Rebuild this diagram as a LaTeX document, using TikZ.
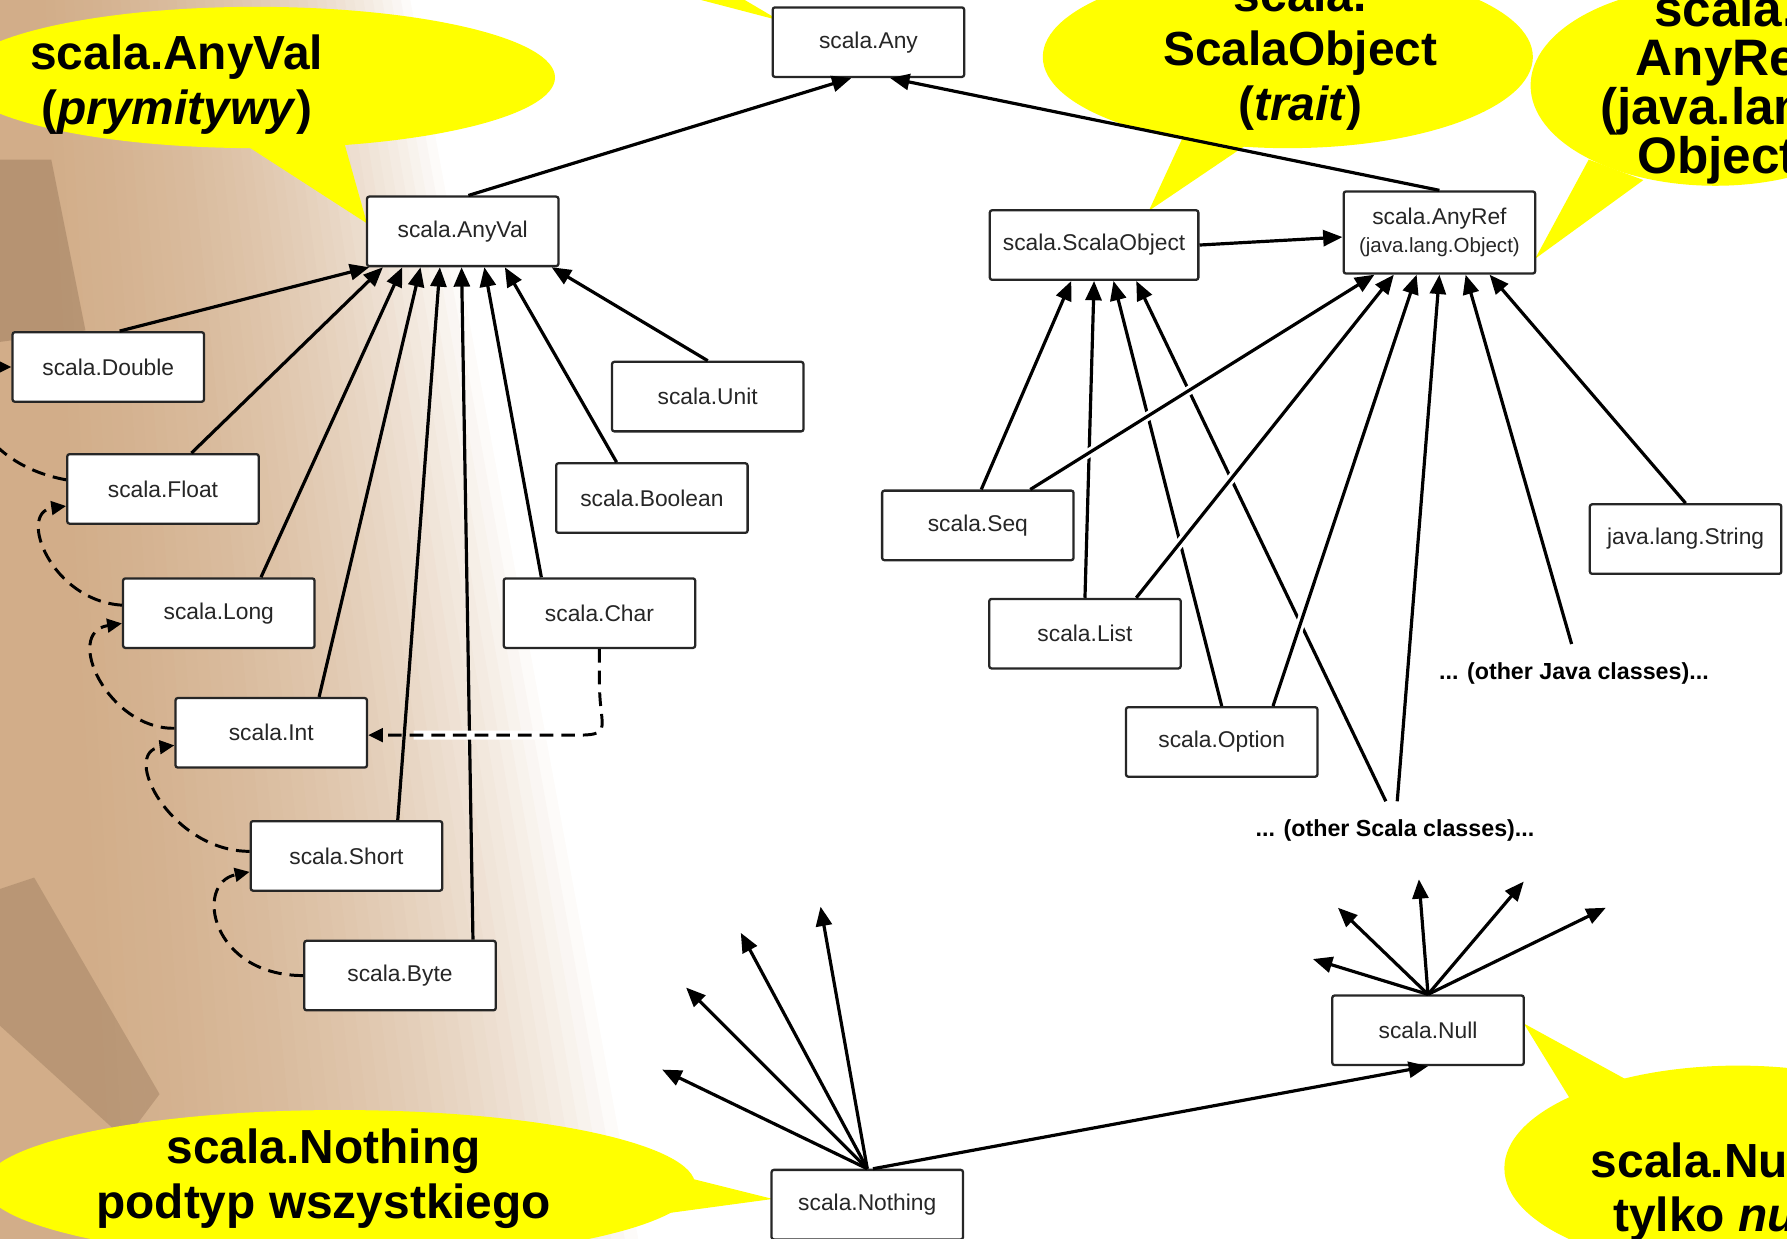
\documentclass[tikz,border=0pt]{standalone}
\usepackage{fontspec}
\setmainfont{Liberation Sans}
\usetikzlibrary{arrows.meta,calc,positioning}

\definecolor{callyellow}{RGB}{255,255,0}
\definecolor{bgtan}{RGB}{200,156,112}
\definecolor{bgbrown}{RGB}{112,82,58}

\tikzset{
  classbox/.style={draw=black!85, line width=1pt, fill=white, rounded corners=1pt,
    minimum width=84pt, minimum height=30.5pt, inner sep=1pt,
    font=\fontsize{10}{12.5}\selectfont, text=black!85},
  calltext/.style={font={\fontsize{21}{24}\selectfont\bfseries}, align=center, inner sep=0pt},
  othertext/.style={font={\fontsize{10.2}{12}\selectfont\bfseries}, inner sep=1pt},
  arr/.style={-{Triangle[length=8.5pt,width=7pt]}, line width=1.4pt},
  implarr/.style={-{Triangle[length=6.5pt,width=6pt]}, line width=1.3pt, dash pattern=on 6pt off 3.5pt},
  jump/.style={preaction={draw=white, line width=4pt, solid, arrows=-, shorten >=20pt, shorten <=4pt}},
}

\begin{document}
\begin{tikzpicture}[x=0.5pt,y=0.5pt,yscale=-1]
\useasboundingbox (0,0) rectangle (1568,1087);
\clip (0,0) rectangle (1568,1087);

% background photo, faded
\foreach \i in {0,...,39}
  \fill[bgtan, opacity=0.045] (0,0) -- ({360-\i*8.2},0) -- ({560-\i*11.8},1087) -- (0,1087) -- cycle;
\fill[bgbrown, opacity=0.28] (0,140) -- (45,140) -- (75,290) -- (0,300) -- cycle;
\fill[bgbrown, opacity=0.25] (0,780) -- (30,770) -- (140,960) -- (110,1000) -- (0,900) -- cycle;

%Callout scala.Any (ellipse above the page)
\fill[callyellow] (596,-5) -- (645,-5) -- (684,18) -- cycle;

%Callout scala.AnyVal
\fill[callyellow] (225,68) ellipse [x radius=262, y radius=62];
\fill[callyellow] (212,125) -- (300,118) -- (322,196) -- cycle;
% Text Node
\node[calltext] (cavl) at (155,74) {scala.AnyVal\\(\textit{prymitywy})};

%Callout scala.ScalaObject
\fill[callyellow] (1130,50) ellipse [x radius=215, y radius=80];
\fill[callyellow] (1045,105) -- (1116,112) -- (1008,185) -- cycle;
% Text Node
\node[calltext] (cso) at (1141,47) {scala.\\ScalaObject\\(\textit{trait})};

%Callout scala.AnyRef
\fill[callyellow] (1505,75) ellipse [x radius=162, y radius=88];
\fill[callyellow] (1394,140) -- (1442,158) -- (1347,227) -- cycle;
% Text Node
\node[calltext, font={\fontsize{22.5}{21.5}\selectfont\bfseries}] (car) at (1514,76) {scala.\\AnyRef\\(java.lang.\\Object)};

%Callout scala.Nothing
\fill[callyellow] (298,1040) ellipse [x radius=312, y radius=66];
\fill[callyellow] (590,1030) -- (560,1068) -- (678,1052) -- cycle;
% Text Node
\node[calltext] (cnth) at (284,1034) {scala.Nothing\\podtyp wszystkiego};

%Callout scala.Null
\fill[callyellow] (1525,1025) ellipse [x radius=205, y radius=90];
\fill[callyellow] (1380,968) -- (1432,950) -- (1337,898) -- cycle;
% Text Node
\node[calltext] (cnul) at (1494,1046) {scala.Null\\\hspace*{14pt}tylko \textit{null}};

%Class boxes
\node[classbox] (any) at (762,37) {scala.Any};
\node[classbox] (anyval) at (406,203) {scala.AnyVal};
\node[classbox, minimum width=91.5pt] (scalaobj) at (960,215) {scala.ScalaObject};
\node[classbox, minimum height=36pt, align=center] (anyref) at (1263,204) {scala.AnyRef\\{\fontsize{9}{11}\selectfont(java.lang.Object)}};
\node[classbox] (double) at (95,322) {scala.Double};
\node[classbox] (unit) at (621,348) {scala.Unit};
\node[classbox] (float) at (143,429) {scala.Float};
\node[classbox] (boolean) at (572,437) {scala.Boolean};
\node[classbox] (seq) at (858,461) {scala.Seq};
\node[classbox] (string) at (1479,473) {java.lang.String};
\node[classbox] (long) at (192,538) {scala.Long};
\node[classbox] (char) at (526,538) {scala.Char};
\node[classbox] (list) at (952,556) {scala.List};
\node[classbox] (int) at (238,643) {scala.Int};
\node[classbox] (option) at (1072,651) {scala.Option};
\node[classbox] (short) at (304,751) {scala.Short};
\node[classbox] (byte) at (351,856) {scala.Byte};
\node[classbox] (nullcls) at (1253,904) {scala.Null};
\node[classbox] (nothing) at (761,1057) {scala.Nothing};

% Text Node
\node[othertext] (othjava) at (1381,591) {... (other Java classes)...};
% Text Node
\node[othertext] (othscala) at (1224,729) {... (other Scala classes)...};

%Implicit conversions (dashed)
\draw[implarr] ($(float.west)+(0,-8)$) .. controls (-30,405) and (-45,322) .. (double.west);
\draw[implarr] ($(long.west)+(0,-7)$) .. controls (45,527) and (15,450) .. ($(float.west)+(0,15)$);
\draw[implarr] ($(int.west)+(0,-4)$) .. controls (95,640) and (55,555) .. ($(long.west)+(0,9)$);
\draw[implarr] ($(short.west)+(0,-4)$) .. controls (150,747) and (105,660) .. ($(int.west)+(0,11)$);
\draw[implarr] (byte.west) .. controls (185,856) and (170,775) .. ($(short.west)+(0,14)$);

%Subclasses of AnyVal
\draw[arr] ($(double.north)+(10,0)$) -- ($(anyval.south)+(-82,0)$);
\draw[arr] ($(float.north)+(25,0)$) -- ($(anyval.south)+(-70,0)$);
\draw[arr] ($(long.north)+(37,0)$) -- ($(anyval.south)+(-53,0)$);
\draw[arr] ($(int.north)+(42,0)$) -- ($(anyval.south)+(-37,0)$);
\draw[arr] ($(short.north)+(45,0)$) -- ($(anyval.south)+(-20,0)$);
\draw[arr] ($(byte.north)+(64,0)$) -- ($(anyval.south)+(-1,0)$);
\draw[arr] ($(char.north)+(-51,0)$) -- ($(anyval.south)+(19,0)$);
\draw[arr] ($(boolean.north)+(-31,0)$) -- ($(anyval.south)+(37,0)$);
\draw[arr] (unit.north) -- ($(anyval.south)+(78,0)$);
\draw[implarr, jump] (char.south) -- ++(0,30) .. controls +(0,38) and +(30,0) .. ($(int.east)+(185,2)$) -- ($(int.east)+(0,2)$);

%Top of the hierarchy
\draw[arr] ($(anyval.north)+(5,0)$) -- ($(any.south)+(-15,0)$);
\draw[arr] (anyref.north) -- ($(any.south)+(19,0)$);
\draw[arr] (scalaobj.east) -- ($(anyref.west)+(0,4)$);

%Subclasses of ScalaObject
\draw[arr] ($(seq.north)+(3,0)$) -- ($(scalaobj.south)+(-20,0)$);
\draw[arr] (list.north) -- (scalaobj.south);
\draw[arr] (option.north) -- ($(scalaobj.south)+(17,0)$);
\draw[arr] ($(othscala.north)+(-8,-14)$) -- ($(scalaobj.south)+(37,0)$);

%Subclasses of AnyRef
\draw[arr, jump] ($(seq.north)+(46,0)$) -- ($(anyref.south)+(-57,0)$);
\draw[arr, jump] ($(list.north)+(45,0)$) -- ($(anyref.south)+(-40,0)$);
\draw[arr, jump] ($(option.north)+(45,0)$) -- ($(anyref.south)+(-20,0)$);
\draw[arr] ($(othscala.north)+(2,-14)$) -- (anyref.south);
\draw[arr] ($(othjava.north)+(-2,-14)$) -- ($(anyref.south)+(23,0)$);
\draw[arr] (string.north) -- ($(anyref.south)+(44,0)$);

%scala.Null below every reference class
\coordinate (nl1) at ($(nullcls.north)+(-101,-31)$);
\coordinate (nl2) at ($(nullcls.north)+(-79,-76)$);
\coordinate (nl3) at ($(nullcls.north)+(-8,-101)$);
\coordinate (nl4) at ($(nullcls.north)+(84,-99)$);
\coordinate (nl5) at ($(nullcls.north)+(156,-76)$);
\draw[arr] (nullcls.north) -- (nl1);
\draw[arr] (nullcls.north) -- (nl2);
\draw[arr] (nullcls.north) -- (nl3);
\draw[arr] (nullcls.north) -- (nl4);
\draw[arr] (nullcls.north) -- (nl5);

%scala.Nothing below everything
\coordinate (nt1) at ($(nothing.north)+(-180,-87)$);
\coordinate (nt2) at ($(nothing.north)+(-159,-159)$);
\coordinate (nt3) at ($(nothing.north)+(-111,-207)$);
\coordinate (nt4) at ($(nothing.north)+(-41,-230)$);
\draw[arr] (nothing.north) -- (nt1);
\draw[arr] (nothing.north) -- (nt2);
\draw[arr] (nothing.north) -- (nt3);
\draw[arr] (nothing.north) -- (nt4);
\draw[arr] ($(nothing.north)+(5,0)$) -- (nullcls.south);

\end{tikzpicture}
\end{document}
